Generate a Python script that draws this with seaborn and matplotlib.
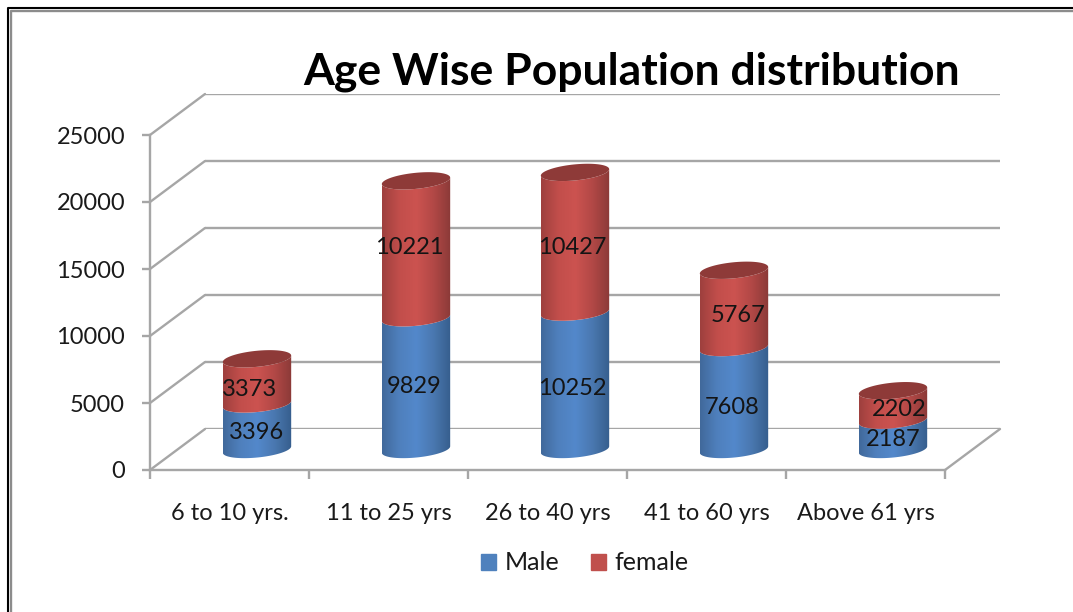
import numpy as np
import pandas as pd
import matplotlib
matplotlib.use('Agg')
import matplotlib.pyplot as plt
import seaborn as sns
from matplotlib.colors import LinearSegmentedColormap
from matplotlib.lines import Line2D
from matplotlib.patches import ConnectionPatch, PathPatch, Rectangle
from matplotlib.path import Path

# dados
categories = ['6 to 10 yrs.', '11 to 25 yrs', '26 to 40 yrs', '41 to 60 yrs', 'Above 61 yrs']
male = [3396, 9829, 10252, 7608, 2187]
female = [3373, 10221, 10427, 5767, 2202]
y_ticks = [0, 5000, 10000, 15000, 20000, 25000]

# deslocamento dos rotulos em pixels (x, y para cima)
male_nudge = [(0, -6), (-2, -3), (-3, -8), (-2, -9), (0, -5)]
female_nudge = [(-7, -8), (-7, 2), (-3, -5), (4, -7), (6, -4)]

W, H = 1073, 612
GRID = '#A6A6A6'
BLUE = ['#41699B', '#4F80BD', '#5388CB', '#4A78B0', '#365E8D']
RED = ['#9E403E', '#C24E4B', '#CC5350', '#B24846', '#8B3A38']
RED_TOP = '#8E3A38'

sns.set_theme(style='white')
plt.rcParams['font.family'] = ['Lato', 'DejaVu Sans']


def box(x0, y0, x1, y1):
    # pixels da imagem -> fracao da figura
    return [x0 / W, 1 - y1 / H, (x1 - x0) / W, (y1 - y0) / H]


fig = plt.figure(figsize=(W / 100, H / 100), dpi=100, facecolor='white')

# moldura da imagem
fig.add_artist(Line2D([8 / W, 8 / W, 1], [0, 1 - 8 / H, 1 - 8 / H], color='black', lw=1.5))
fig.add_artist(Line2D([11.3 / W, 11.3 / W, 1], [0, 1 - 11.3 / H, 1 - 11.3 / H], color='#8C8C8C', lw=1.7))

# parede do fundo, barras no meio da profundidade, eixo da frente
ax_back = fig.add_axes(box(205, 94, 1000, 429))
ax_bars = fig.add_axes(box(177.5, 114.5, 972.5, 449.5))
ax = fig.add_axes(box(150, 135, 945, 470))

df = pd.DataFrame({'cat': categories, 'male': male, 'female': female})
df['total'] = df['male'] + df['female']

sns.barplot(data=df, x='cat', y='total', color='#C0504D', width=0.43, ax=ax_bars)
sns.barplot(data=df, x='cat', y='male', color='#4F81BD', width=0.43, ax=ax_bars)
female_bars = list(ax_bars.patches[:5])
male_bars = list(ax_bars.patches[5:10])

for a in (ax_back, ax_bars, ax):
    a.set_xlim(-0.5, 4.5)
    a.set_ylim(0, 25000)
    a.patch.set_alpha(0)
    a.set_xlabel('')
    a.set_ylabel('')
    a.set_yticks(y_ticks)
for a in (ax_back, ax_bars):
    a.set_xticks([])
    a.set_yticklabels([])
    a.tick_params(length=0)
    sns.despine(ax=a, left=True, bottom=True)

# grade do fundo e diagonais
ax_back.grid(axis='y', color=GRID, lw=1.7)
ax_back.set_axisbelow(True)
for v in y_ticks:
    fig.add_artist(ConnectionPatch((-0.5, v), (-0.5, v), 'data', 'data', axesA=ax, axesB=ax_back,
                                   color=GRID, lw=1.7))
fig.add_artist(ConnectionPatch((4.5, 0), (4.5, 0), 'data', 'data', axesA=ax, axesB=ax_back,
                               color=GRID, lw=1.7))

# eixo da frente
ax.set_xticks(np.arange(-0.5, 5, 1))
ax.set_xticklabels([])
ax.set_xticks(range(5), categories, minor=True)
ax.tick_params(axis='x', which='major', length=6.5, width=1.7, color=GRID, bottom=True)
ax.tick_params(axis='x', which='minor', length=0, pad=24, labelsize=17, labelcolor='#1A1A1A')
ax.tick_params(axis='y', length=6, width=1.7, color=GRID, left=True, pad=12, labelsize=17, labelcolor='#1A1A1A')
sns.despine(ax=ax)
for s in ('left', 'bottom'):
    ax.spines[s].set_color(GRID)
    ax.spines[s].set_linewidth(1.7)

# elipse do cilindro em unidades de dados
B = 600
SHEAR = 240
t_front = np.linspace(np.pi, 2 * np.pi, 50)
t_full = np.linspace(0, 2 * np.pi, 100)


def curve(bar_x, bar_w, level, t):
    xs = bar_x + bar_w / 2 + bar_w / 2 * np.cos(t)
    ys = level + B * np.sin(t) + SHEAR * np.cos(t)
    return xs, ys


def side(bar, low, high, colors):
    # troca a barra retangular por um lado de cilindro com degrade
    x0, w = bar.get_x(), bar.get_width()
    xb, yb = curve(x0, w, low, t_front)
    xt, yt = curve(x0, w, high, t_front[::-1])
    verts = np.column_stack([np.r_[xb, xt], np.r_[yb, yt]])
    clip = PathPatch(Path(verts), transform=ax_bars.transData, fc='none', ec='none', clip_on=False)
    ax_bars.add_patch(clip)
    cmap = LinearSegmentedColormap.from_list('cyl', colors)
    im = ax_bars.imshow(np.linspace(0, 1, 128)[None, :], cmap=cmap, aspect='auto',
                        extent=(x0, x0 + w, low - 900, high + 900), zorder=3, interpolation='bilinear')
    im.set_clip_path(clip)
    im.set_clip_box(fig.bbox)
    bar.set_visible(False)


for i in range(5):
    side(male_bars[i], 0, male[i], BLUE)
    side(female_bars[i], male[i], male[i] + female[i], RED)
    x0, w = female_bars[i].get_x(), female_bars[i].get_width()
    xs, ys = curve(x0, w, male[i] + female[i], t_full)
    ax_bars.fill(xs, ys, color=RED_TOP, zorder=4, lw=0)
ax_bars.set_xlim(-0.5, 4.5)
ax_bars.set_ylim(0, 25000)

# rotulos
for i in range(5):
    cx = male_bars[i].get_x() + male_bars[i].get_width() / 2
    ax_bars.annotate(str(male[i]), (cx, male[i] / 2), xytext=male_nudge[i], textcoords='offset pixels',
                     ha='center', va='center', fontsize=17, color='#141414', zorder=6)
    ax_bars.annotate(str(female[i]), (cx, male[i] + female[i] / 2), xytext=female_nudge[i],
                     textcoords='offset pixels', ha='center', va='center', fontsize=17, color='#141414', zorder=6)

fig.text(632 / W, 1 - 71.5 / H, 'Age Wise Population distribution', ha='center', va='center',
         fontsize=32, fontweight='bold', color='black')

handles = [Rectangle((0, 0), 1, 1, color='#4F81BD'), Rectangle((0, 0), 1, 1, color='#C0504D')]
fig.legend(handles, ['Male', 'female'], ncol=2, frameon=False, loc='center',
           bbox_to_anchor=(585 / W, 1 - 563 / H), fontsize=18, handlelength=0.6, handleheight=0.6,
           handletextpad=0.35, columnspacing=1.25, labelcolor='#1A1A1A')

fig.savefig('out.png', dpi=100)
